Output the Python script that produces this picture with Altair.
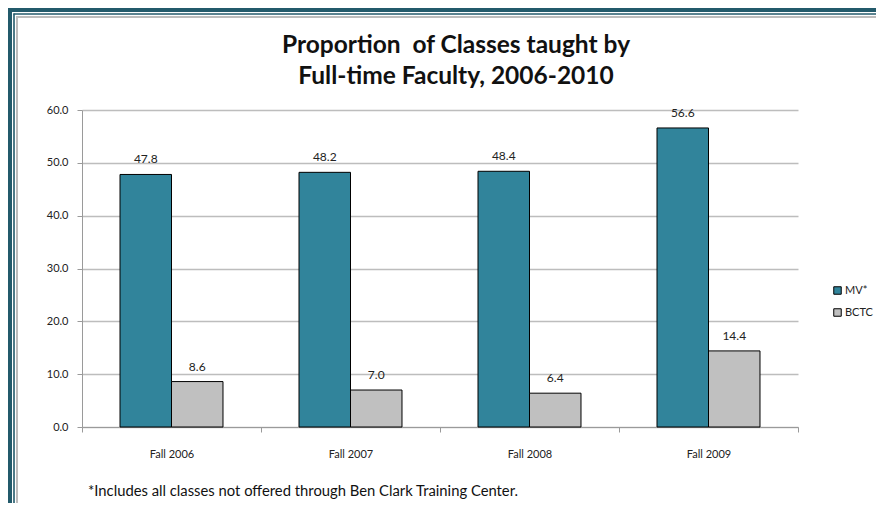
import altair as alt
import pandas as pd

categories = ["Fall 2006", "Fall 2007", "Fall 2008", "Fall 2009"]
series_names = ["MV*", "BCTC"]
mv_values = [47.8, 48.2, 48.4, 56.6]
bctc_values = [8.6, 7.0, 6.4, 14.4]
y_ticks = [0, 10, 20, 30, 40, 50, 60]
title_lines = ["Proportion\u00a0 of Classes taught by", "Full-time Faculty, 2006-2010"]
footnote = "*Includes all classes not offered through Ben Clark Training Center."

rows = []
for c, m, b in zip(categories, mv_values, bctc_values):
    rows.append({"cat": c, "series": "MV*", "value": m})
    rows.append({"cat": c, "series": "BCTC", "value": b})
df = pd.DataFrame(rows)

FONT = "Lato"
TEAL = "#31849b"
GRAY = "#c0c0c0"
BORDER = "#235a6b"

W, H = 716, 317
PL, PT, PR, PB = 74, 102, 78, 76

x_enc = alt.X("cat:N", sort=categories, title=None,
              scale=alt.Scale(paddingInner=0, paddingOuter=0),
              axis=alt.Axis(labelAngle=0, labelFont=FONT, labelFontSize=11, labelColor="#222",
                            domainColor="#9a9a9a", tickColor="#9a9a9a", tickSize=5,
                            tickBand="extent", labelPadding=16, grid=False))
xoff_scale = alt.Scale(paddingInner=0, paddingOuter=0.738)
xoff = alt.XOffset("series:N", sort=series_names, scale=xoff_scale)
y_enc = alt.Y("value:Q", title=None,
              scale=alt.Scale(domain=[0, 60], nice=False),
              axis=alt.Axis(values=y_ticks, format=".1f", labelFont=FONT, labelFontSize=11,
                            labelColor="#222", domainColor="#9a9a9a", tickColor="#9a9a9a",
                            tickSize=5, labelPadding=9, gridColor="#bdbdbd", gridWidth=1.6))

bars = alt.Chart(df).mark_bar(stroke="black", strokeWidth=1).encode(
    x=x_enc, xOffset=xoff, y=y_enc,
    color=alt.Color("series:N", sort=series_names,
                    scale=alt.Scale(domain=series_names, range=[TEAL, GRAY]),
                    legend=alt.Legend(title=None, orient="none", legendX=750, legendY=175,
                                      symbolType="square", symbolSize=56,
                                      symbolStrokeColor="black", symbolStrokeWidth=1,
                                      labelFont=FONT, labelFontSize=11, labelColor="#222",
                                      rowPadding=9, labelOffset=2)),
)

labels = alt.Chart(df).mark_text(baseline="bottom", dy=-8, font=FONT, fontSize=12, color="#222").encode(
    x=alt.X("cat:N", sort=categories), xOffset=alt.XOffset("series:N", sort=series_names),
    y="value:Q", text=alt.Text("value:Q", format=".1f"),
)

one = alt.Data(values=[{}])
note = alt.Chart(one).mark_text(align="left", baseline="middle", font=FONT, fontSize=14.8,
                                color="#111", text=footnote).encode(
    x=alt.value(6), y=alt.value(382))

title1 = alt.Chart(one).mark_text(align="center", baseline="alphabetic", font=FONT, fontSize=24.5,
                                  fontWeight="bold", color="#111", text=title_lines[0]).encode(
    x=alt.value(374), y=alt.value(-57))
title2 = alt.Chart(one).mark_text(align="center", baseline="alphabetic", font=FONT, fontSize=24.5,
                                  fontWeight="bold", color="#111", text=title_lines[1]).encode(
    x=alt.value(374), y=alt.value(-26))

def rule(x, x2, y, y2, color, w):
    return alt.Chart(one).mark_rule(color=color, strokeWidth=w).encode(
        x=alt.value(x), x2=alt.value(x2), y=alt.value(y), y2=alt.value(y2))

left = -PL
top = -PT
right = W + PR
bottom = H + PB
borders = [
    rule(left + 2, left + 2, top, bottom, BORDER, 4),
    rule(left, right, top + 2, top + 2, BORDER, 4),
    rule(left + 6, left + 6, top + 5.5, bottom, BORDER, 1.6),
    rule(left + 5.5, right, top + 6, top + 6, BORDER, 1.6),
    rule(left + 9, left + 9, top + 9, bottom, "#bcbcbc", 2),
    rule(left + 8, right, top + 9, top + 9, "#bcbcbc", 2),
]

chart = alt.layer(bars, labels, note, title1, title2, *borders).properties(
    width=W, height=H,
    background="white",
    autosize=alt.AutoSizeParams(type="none"),
    padding={"left": PL, "top": PT, "right": PR, "bottom": PB},
).configure_view(strokeWidth=0)

chart.save("out.html", embed_options={"renderer": "svg", "actions": False})
